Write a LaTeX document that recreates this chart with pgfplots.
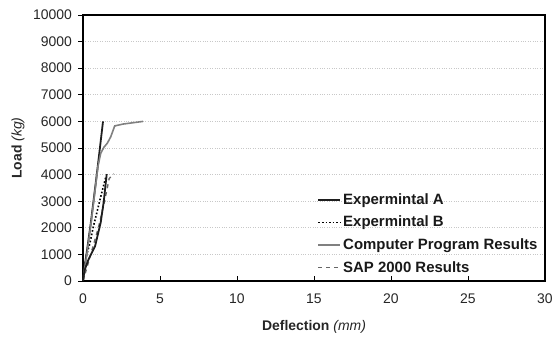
\documentclass[border=0pt]{standalone}
\usepackage{pgfplots}
\pgfplotsset{compat=1.18}
\usepackage{fontspec}
\setmainfont{Liberation Sans}
\definecolor{darkline}{HTML}{1E1E1E}
\definecolor{grayline}{HTML}{808080}
\definecolor{sapline}{HTML}{666666}
\definecolor{gridc}{HTML}{C8C8C8}
\begin{document}
\begin{tikzpicture}
\useasboundingbox (-83bp,-59bp) rectangle (472bp,281bp);
\begin{axis}[
  scale only axis,
  width=462bp, height=266bp,
  xmin=0, xmax=30, ymin=0, ymax=10000,
  xtick={0,5,...,30},
  ytick={0,1000,...,10000},
  xtick pos=bottom, ytick pos=left,
  xtick align=inside, ytick align=outside,
  major tick length=4.5bp,
  tick style={black, line width=0.8bp},
  axis line style={black, line width=1.1bp},
  ymajorgrids,
  grid style={gridc, dotted, line width=0.8bp},
  /pgf/number format/assume math mode=true,
  scaled y ticks=false,
  yticklabel style={/pgf/number format/1000 sep={}, xshift=-3bp},
  xticklabel style={yshift=-9bp},
  tick label style={font=\fontsize{14}{16}\selectfont, text=black!85},
  xlabel={\textbf{Deflection} \textit{(mm)}},
  ylabel={\textbf{Load} \textit{(kg)}},
  xlabel style={at={(axis description cs:0.5,-0.173)}, anchor=center},
  ylabel style={at={(axis description cs:-0.1407,0.5)}, anchor=center},
  label style={font=\fontsize{14}{16}\selectfont, text=black!85},
  legend style={draw=none, fill=none, at={(0.507,0.337)}, anchor=north west,
    font=\bfseries\fontsize{15}{16}\selectfont, text=black!90,
    row sep=6.3bp, inner sep=0pt,
    /tikz/every odd column/.style={column sep=0bp}},
  legend cell align=left,
  legend image code/.code={\draw[#1] (0bp,0bp) -- (22bp,0bp);},
]
\addplot[darkline, line width=1.8bp] coordinates {(0,0) (0.05,300) (0.2,900) (0.5,2150) (0.93,4170) (1.3,6000)};
\addlegendentry{Expermintal A}
\addplot[black, line width=1.6bp, dotted] coordinates {(0,0) (0.1,500) (0.2,900) (0.45,1420) (0.67,2040) (0.89,2550) (1.1,3050) (1.32,3550) (1.5,3950)};
\addlegendentry{Expermintal B}
\addplot[grayline, line width=1.6bp] coordinates {(0,0) (0.1,450) (0.25,1000) (0.55,2300) (0.97,4300) (1.15,4800) (1.36,5030) (1.58,5180) (1.8,5420) (2.06,5830) (2.6,5900) (3.9,6000)};
\addlegendentry{Computer Program Results}
\addplot[sapline, line width=1.4bp, dash pattern=on 4bp off 4bp] coordinates {(0,0) (0.5,1000) (1.0,2000) (1.4,3000) (1.7,3850) (2.0,4030)};
\addlegendentry{SAP 2000 Results}
\addplot[darkline, line width=1.8bp, forget plot] coordinates {(0,0) (0.1,400) (0.35,800) (0.78,1300) (1.15,2200) (1.35,3000) (1.54,4020)};
\end{axis}
\end{tikzpicture}
\end{document}
